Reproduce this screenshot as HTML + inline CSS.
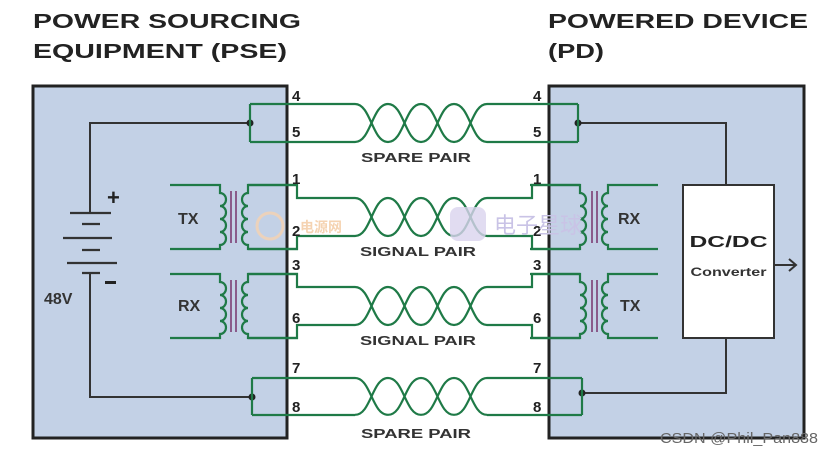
<!DOCTYPE html>
<html><head><meta charset="utf-8"><style>
html,body{margin:0;padding:0;background:#fff;}
svg{display:block;font-family:"Liberation Sans",sans-serif;}
</style></head><body>
<svg width="833" height="454" viewBox="0 0 833 454" xmlns="http://www.w3.org/2000/svg">
<defs>
<g id="xf" fill="none">
  <path d="M-50 0H0V8a6 6.5 0 0 1 0 13a6 6.5 0 0 1 0 13a6 6.5 0 0 1 0 13a6 6.5 0 0 1 0 13V64H-50" stroke="#1f7a47" stroke-width="2.2"/>
  <path d="M78 0H28V8a6 6.5 0 0 0 0 13a6 6.5 0 0 0 0 13a6 6.5 0 0 0 0 13a6 6.5 0 0 0 0 13V64H78" stroke="#1f7a47" stroke-width="2.2"/>
  <path d="M11 6V58M16 6V58" stroke="#8a5a8a" stroke-width="2"/>
</g>
<g id="tw" fill="none" stroke="#1f7a47" stroke-width="2.2">
  <path d="M355,0 C371,0 372,38 388,38 C404,38 405,0 421,0 C437,0 438,38 454,38 C470,38 471,0 487,0"/>
  <path d="M355,38 C371,38 372,0 388,0 C404,0 405,38 421,38 C437,38 438,0 454,0 C470,0 471,38 487,38"/>
</g>
</defs>

<!-- titles -->
<g font-weight="bold" font-size="20" fill="#222">
<text x="33" y="28" textLength="268" lengthAdjust="spacingAndGlyphs">POWER SOURCING</text>
<text x="33" y="58" textLength="254" lengthAdjust="spacingAndGlyphs">EQUIPMENT (PSE)</text>
<text x="548" y="28" textLength="260" lengthAdjust="spacingAndGlyphs">POWERED DEVICE</text>
<text x="548" y="58" textLength="56" lengthAdjust="spacingAndGlyphs">(PD)</text>
</g>

<!-- boxes -->
<rect x="33" y="86" width="254" height="352" fill="#c3d1e6" stroke="#222" stroke-width="3"/>
<rect x="549" y="86" width="255" height="352" fill="#c3d1e6" stroke="#222" stroke-width="3"/>

<!-- power wires -->
<g fill="none" stroke="#333" stroke-width="2">
<path d="M250 123H90V213"/>
<path d="M90 273V397H252"/>
<path d="M578 123H726V185"/>
<path d="M726 338V393H582"/>
<path d="M774 265H796"/>
<path d="M789 259L796 265L789 271"/>
</g>
<circle cx="250" cy="123" r="3.5" fill="#222"/>
<circle cx="252" cy="397" r="3.5" fill="#222"/>
<circle cx="578" cy="123" r="3.5" fill="#222"/>
<circle cx="582" cy="393" r="3.5" fill="#222"/>

<!-- battery -->
<g stroke="#333" stroke-width="2.2">
<path d="M70 213H111M82 224H100M63 238H112M82 250H100M67 263H117M82 273H100"/>
</g>
<text x="107" y="205" font-size="22" font-weight="bold" fill="#222">+</text>
<rect x="105" y="281" width="11" height="3" fill="#222"/>
<text x="44" y="304" font-size="16" font-weight="bold" fill="#333">48V</text>

<!-- DC/DC -->
<rect x="683" y="185" width="91" height="153" fill="#fff" stroke="#333" stroke-width="2"/>
<text x="728.5" y="247" font-size="16" font-weight="bold" fill="#222" text-anchor="middle" textLength="78" lengthAdjust="spacingAndGlyphs">DC/DC</text>
<text x="728.5" y="276" font-size="12" font-weight="bold" fill="#333" text-anchor="middle" textLength="76" lengthAdjust="spacingAndGlyphs">Converter</text>

<!-- transformers -->
<use href="#xf" transform="translate(220,185)"/>
<use href="#xf" transform="translate(220,274)"/>
<use href="#xf" transform="translate(608,185) scale(-1,1)"/>
<use href="#xf" transform="translate(608,274) scale(-1,1)"/>
<g font-size="16" font-weight="bold" fill="#333">
<text x="178" y="224">TX</text>
<text x="178" y="311">RX</text>
<text x="618" y="224">RX</text>
<text x="620" y="311">TX</text>
</g>

<!-- cable wires -->
<g fill="none" stroke="#1f7a47" stroke-width="2.2">
<path d="M250 104V142M250 104H355M250 142H355M487 104H578M487 142H578M578 104V142"/>
<path d="M252 378V415M252 378H355M252 415H355M487 378H582M487 415H582M582 378V415"/>
<path d="M248 185H297V198H355M248 249H297V236H355M487 198H532V185H580M487 236H532V249H580"/>
<path d="M248 274H297V287H355M248 338H297V325H355M487 287H532V274H580M487 325H532V338H580"/>
</g>
<use href="#tw" transform="translate(0,104)"/>
<use href="#tw" transform="translate(0,198)"/>
<use href="#tw" transform="translate(0,287)"/>
<use href="#tw" transform="translate(0,378) scale(1,0.97)"/>

<!-- pin numbers -->
<g font-size="15" font-weight="bold" fill="#222">
<text x="292" y="101">4</text><text x="292" y="137">5</text>
<text x="292" y="184">1</text><text x="292" y="236">2</text>
<text x="292" y="270">3</text><text x="292" y="323">6</text>
<text x="292" y="373">7</text><text x="292" y="412">8</text>
<text x="533" y="101">4</text><text x="533" y="137">5</text>
<text x="533" y="184">1</text><text x="533" y="236">2</text>
<text x="533" y="270">3</text><text x="533" y="323">6</text>
<text x="533" y="373">7</text><text x="533" y="412">8</text>
</g>
<g font-size="13" font-weight="bold" fill="#333" text-anchor="middle">
<text x="416" y="162" textLength="110" lengthAdjust="spacingAndGlyphs">SPARE PAIR</text>
<text x="418" y="256" textLength="116" lengthAdjust="spacingAndGlyphs">SIGNAL PAIR</text>
<text x="418" y="345" textLength="116" lengthAdjust="spacingAndGlyphs">SIGNAL PAIR</text>
<text x="416" y="438" textLength="110" lengthAdjust="spacingAndGlyphs">SPARE PAIR</text>
</g>

<!-- watermarks -->
<text x="300" y="232" font-size="14" font-weight="bold" fill="#f3c9a0" opacity="0.8" font-family="'Liberation Sans','Noto Sans CJK SC',sans-serif">电源网</text>
<circle cx="270" cy="226" r="13" fill="none" stroke="#f6d2b0" stroke-width="3" opacity="0.8"/>
<rect x="450" y="207" width="36" height="34" rx="8" fill="#d9d3ee" opacity="0.8"/>
<text x="494" y="233" font-size="22" fill="#c9c3e6" font-family="'Liberation Sans','Noto Sans CJK SC',sans-serif">电子星球</text>
<text x="660" y="443" font-size="15" fill="#666" textLength="158" lengthAdjust="spacingAndGlyphs">CSDN @Phil_Pan888</text>
</svg>
</body></html>
